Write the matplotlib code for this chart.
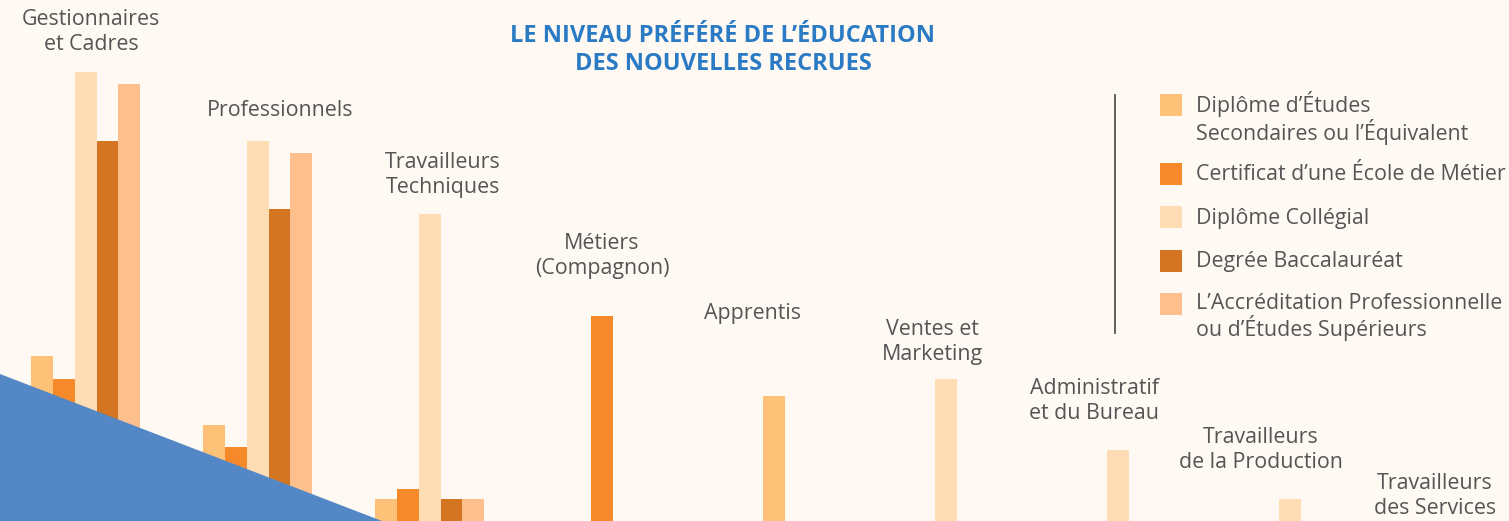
import matplotlib
matplotlib.use("Agg")
import matplotlib.pyplot as plt
from matplotlib.patches import Polygon, Rectangle
import numpy as np

W, H = 1509, 521

# data
categories = ["Gestionnaires\net Cadres", "Professionnels", "Travailleurs\nTechniques",
              "Métiers\n(Compagnon)", "Apprentis", "Ventes et\nMarketing",
              "Administratif\net du Bureau", "Travailleurs\nde la Production",
              "Travailleurs\ndes Services"]
series_names = ["Diplôme d’Études\nSecondaires ou l’Équivalent",
                "Certificat d’une École de Métier",
                "Diplôme Collégial",
                "Degrée Baccalauréat",
                "L’Accréditation Professionnelle\nou d’Études Supérieurs"]
secondaire = [33.0, 19.2, 4.4, 0, 25.0, 0, 0, 0, 0]
ecole_metier = [28.4, 14.8, 6.4, 41.0, 0, 0, 0, 0, 0]
collegial = [89.8, 76.0, 61.4, 0, 0, 28.4, 14.2, 4.4, 0]
baccalaureat = [76.0, 62.4, 4.4, 0, 0, 0, 0, 0, 0]
superieur = [87.4, 73.6, 4.4, 0, 0, 0, 0, 0, 0]

colors = ["#FDC277", "#F68A2B", "#FEDDB4", "#D47621", "#FCBF8D"]
bg = "#FEF9F3"
text_col = "#555555"

# layout (pixels of the final image)
label_xy = [(91, 32), (280, 111), (443, 175), (602, 256), (753, 313),
            (932, 342), (1094, 401), (1261, 450), (1435, 496)]
legend_sq_y = [105, 174, 217, 261, 304]
legend_txt_y = [118, 175, 218, 261, 317]


def fx(x):
    return x / W


def fy(y):
    return 1 - y / H


plt.rcParams['font.family'] = ['Open Sans', 'DejaVu Sans']

fig = plt.figure(figsize=(W / 100, H / 100), dpi=100, facecolor=bg)
ax = fig.add_axes([0, 0, 1, 1])
ax.set_facecolor(bg)

step = 172.0
x0 = 85.7
bw = 21.8 / step
ax.set_xlim(-x0 / step, (W - x0) / step)
ax.set_ylim(0, H / 5)
ax.axis("off")

values = np.array([secondaire, ecole_metier, collegial, baccalaureat, superieur])
for g in range(len(categories)):
    present = [s for s in range(5) if values[s, g] > 0]
    n = len(present)
    for k, s in enumerate(present):
        ax.bar(g + (k - (n - 1) / 2) * bw, values[s, g], width=bw,
               color=colors[s], linewidth=0, zorder=2)

# blue corner triangle
tri = Polygon([(0, 0), (382 / W, 0), (0, (H - 374) / H)], closed=True,
              transform=ax.transAxes, facecolor="#5487C6", edgecolor="none", zorder=5)
ax.add_patch(tri)

# category labels
for lab, (x, y) in zip(categories, label_xy):
    fig.text(fx(x), fy(y), lab, ha="center", va="center", fontsize=15.4,
             color=text_col, linespacing=1.26)

# title
fig.text(fx(723), fy(50), "LE NIVEAU PRÉFÉRÉ DE L’ÉDUCATION\nDES NOUVELLES RECRUES",
         ha="center", va="center", fontsize=17, fontweight="bold",
         color="#2B7BC4", linespacing=1.2)

# legend
fig.add_artist(plt.Line2D([fx(1115), fx(1115)], [fy(95), fy(333)],
                          color="#555555", lw=1.3))
for name, c, sy, ty in zip(series_names, colors, legend_sq_y, legend_txt_y):
    fig.add_artist(Rectangle((fx(1160), fy(sy + 11)), 22 / W, 22 / H,
                             facecolor=c, edgecolor="none", transform=fig.transFigure))
    fig.text(fx(1196), fy(ty), name, ha="left", va="center", fontsize=15.4,
             color=text_col, linespacing=1.05)

fig.savefig("out.png", dpi=100, facecolor=bg)
